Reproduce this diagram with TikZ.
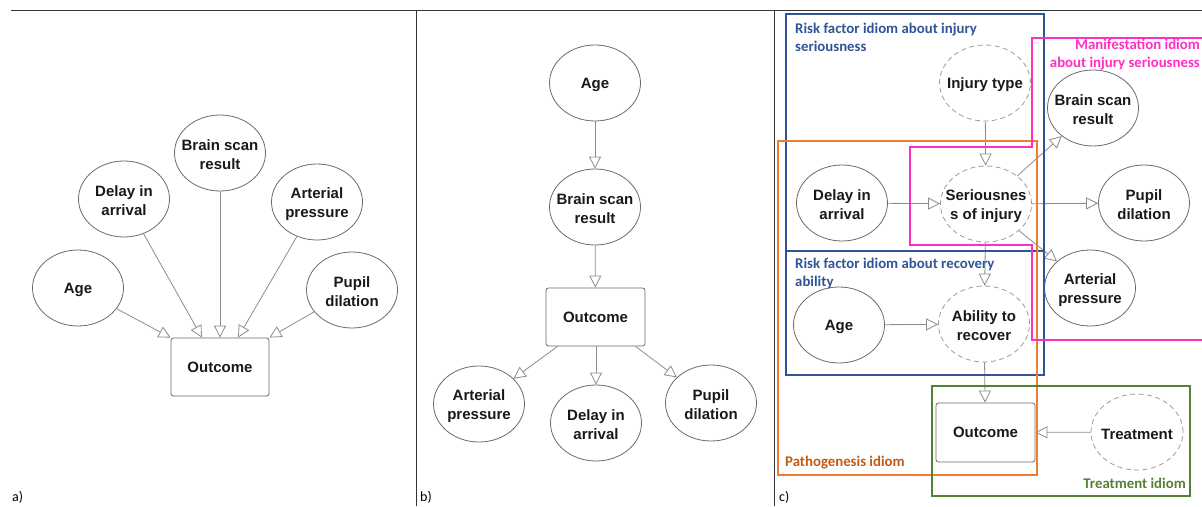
\documentclass[tikz,border=0pt]{standalone}
\usepackage{fontspec}
\setmainfont{Liberation Sans}
\newfontfamily\carl{Carlito}
\usetikzlibrary{shapes.geometric,arrows.meta,calc}
\definecolor{edgegray}{HTML}{8C8C8C}
\definecolor{nodegray}{HTML}{6A6A6A}
\definecolor{dashgray}{HTML}{9A9A9A}
\definecolor{rfblue}{HTML}{2F5597}
\definecolor{pathor}{HTML}{ED7D31}
\definecolor{pathortext}{HTML}{C55A11}
\definecolor{manpink}{HTML}{FF2EC4}
\definecolor{trgreen}{HTML}{548235}
\tikzset{
  ell/.style={ellipse,draw=nodegray,line width=0.8pt,minimum width=91pt,minimum height=76pt,inner sep=0pt},
  dell/.style={ell,draw=dashgray,dash pattern=on 5pt off 3.5pt},
  lbl/.style={font=\bfseries\fontsize{15}{19}\selectfont,align=center,inner sep=0pt,text=black!90,yshift=-2pt},
  outbox/.style={rectangle,rounded corners=2.5pt,draw=nodegray,line width=0.8pt,minimum width=98pt,minimum height=58pt,inner sep=0pt,font=\bfseries\fontsize{15}{19}\selectfont,text=black!90},
  arr/.style={draw=edgegray,line width=0.8pt,-{Triangle[open,length=12pt,width=12pt]}},
  idiom/.style={font=\carl\bfseries\fontsize{14.8}{18}\selectfont,inner sep=0pt},
  panel/.style={font=\carl\fontsize{14}{16}\selectfont,inner sep=0pt,anchor=west},
  frame/.style={draw=black!80,line width=1pt}
}
\begin{document}
\begin{tikzpicture}[x=1pt,y=-1pt]
\useasboundingbox (0,0) rectangle (1202,506);
% frame lines
\coordinate (tl) at (11,10);
\coordinate (tr) at (1202,10);
\coordinate (v1t) at (416,10);
\coordinate (v1b) at (416,506);
\coordinate (v2t) at (774,10);
\coordinate (v2b) at (774,506);
\draw[frame] (tl) -- (tr);
\draw[frame] (v1t) -- (v1b);
\draw[frame] (v2t) -- (v2b);

% ---------- panel a ----------
\node[ell,label={[lbl]center:Age}] (aAge) at (78,288) {};
\node[ell,label={[lbl]center:Delay in\\arrival}] (aDelay) at (124,199) {};
\node[ell,label={[lbl]center:Brain scan\\result}] (aBrain) at (220,153) {};
\node[ell,label={[lbl]center:Arterial\\pressure}] (aArt) at (317,202) {};
\node[ell,label={[lbl]center:Pupil\\dilation}] (aPupil) at (352,290) {};
\node[outbox] (aOut) at (220,367) {Outcome};
\draw[arr] (aAge) -- (aOut.north west);
\draw[arr] (aDelay) -- ($(aOut.north)+(-18,0)$);
\draw[arr] (aBrain) -- (aOut.north);
\draw[arr] (aArt) -- ($(aOut.north)+(18,0)$);
\draw[arr] (aPupil) -- (aOut.north east);
\node[panel] (pa) at (12,497) {a)};

% ---------- panel b ----------
\node[ell,label={[lbl]center:Age}] (bAge) at (595,83) {};
\node[ell,label={[lbl]center:Brain scan\\result}] (bBrain) at (595,207) {};
\node[outbox,minimum width=99pt] (bOut) at (595.5,317) {Outcome};
\node[ell,label={[lbl]center:Arterial\\pressure}] (bArt) at (479,404) {};
\node[ell,label={[lbl]center:Delay in\\arrival}] (bDelay) at (596,423) {};
\node[ell,label={[lbl]center:Pupil\\dilation}] (bPupil) at (711,403) {};
\draw[arr] (bAge) -- (bBrain);
\draw[arr] (bBrain) -- (bOut);
\draw[arr] ($(bOut.south)+(-38,0)$) -- (bArt);
\draw[arr] ($(bOut.south)+(0.5,0)$) -- (bDelay);
\draw[arr] ($(bOut.south)+(40,0)$) -- (bPupil);
\node[panel] (pb) at (420,497) {b)};

% ---------- panel c ----------
\node[dell,label={[lbl]center:Injury type}] (cInj) at (985,83) {};
\node[ell,label={[lbl]center:Brain scan\\result}] (cBrain) at (1093,108) {};
\node[ell,label={[lbl]center:Delay in\\arrival}] (cDelay) at (842,203) {};
\node[dell,label={[lbl]center:Seriousnes\\s of injury}] (cSer) at (986,204) {};
\node[ell,label={[lbl]center:Pupil\\dilation}] (cPupil) at (1144,203) {};
\node[ell,label={[lbl]center:Arterial\\pressure}] (cArt) at (1090,288) {};
\node[ell,label={[lbl]center:Age}] (cAge) at (839,325) {};
\node[dell,label={[lbl]center:Ability to\\recover}] (cAbil) at (984,324) {};
\node[outbox,minimum width=99pt,minimum height=59pt] (cOut) at (985.5,432.5) {Outcome};
\node[dell,minimum width=92pt,label={[lbl]center:Treatment}] (cTreat) at (1137,432) {};
\draw[arr] (cInj) -- (cSer);
\draw[arr] (cDelay) -- (cSer);
\draw[arr] (cSer) -- (cBrain);
\draw[arr] (cSer) -- (cPupil);
\draw[arr] (cSer) -- (cArt);
\draw[arr] (cSer) -- (cAbil);
\draw[arr] (cAge) -- (cAbil);
\draw[arr] (cAbil) -- (cOut);
\draw[arr] (cTreat) -- (cOut);

% idiom boxes
\draw[rfblue,line width=1.6pt] (786,14) rectangle (1044,251);
\draw[rfblue,line width=1.6pt] (786,251) rectangle (1044,375);
\draw[pathor,line width=1.6pt] (778,141) rectangle (1037,475);
\draw[trgreen,line width=1.6pt] (932,386) rectangle (1190,496);
\draw[manpink,line width=2pt] (1206,38) -- (1032,38) -- (1032,147) -- (910,147) -- (910,245) -- (1032,245) -- (1032,340) -- (1206,340);

\node[idiom,text=rfblue,anchor=west,align=left] (t1) at (795,37) {Risk factor idiom about injury\\seriousness};
\node[idiom,text=manpink,anchor=east,align=right] (t2) at (1200,54.5) {Manifestation idiom\\about injury seriousness};
\node[idiom,text=rfblue,anchor=west,align=left] (t3) at (795,273.5) {Risk factor idiom about recovery\\ability};
\node[idiom,text=pathortext,anchor=west] (t4) at (785,463) {Pathogenesis idiom};
\node[idiom,text=trgreen,anchor=east] (t5) at (1186,483) {Treatment idiom};
\node[panel] (pc) at (779,497) {c)};
\end{tikzpicture}
\end{document}
